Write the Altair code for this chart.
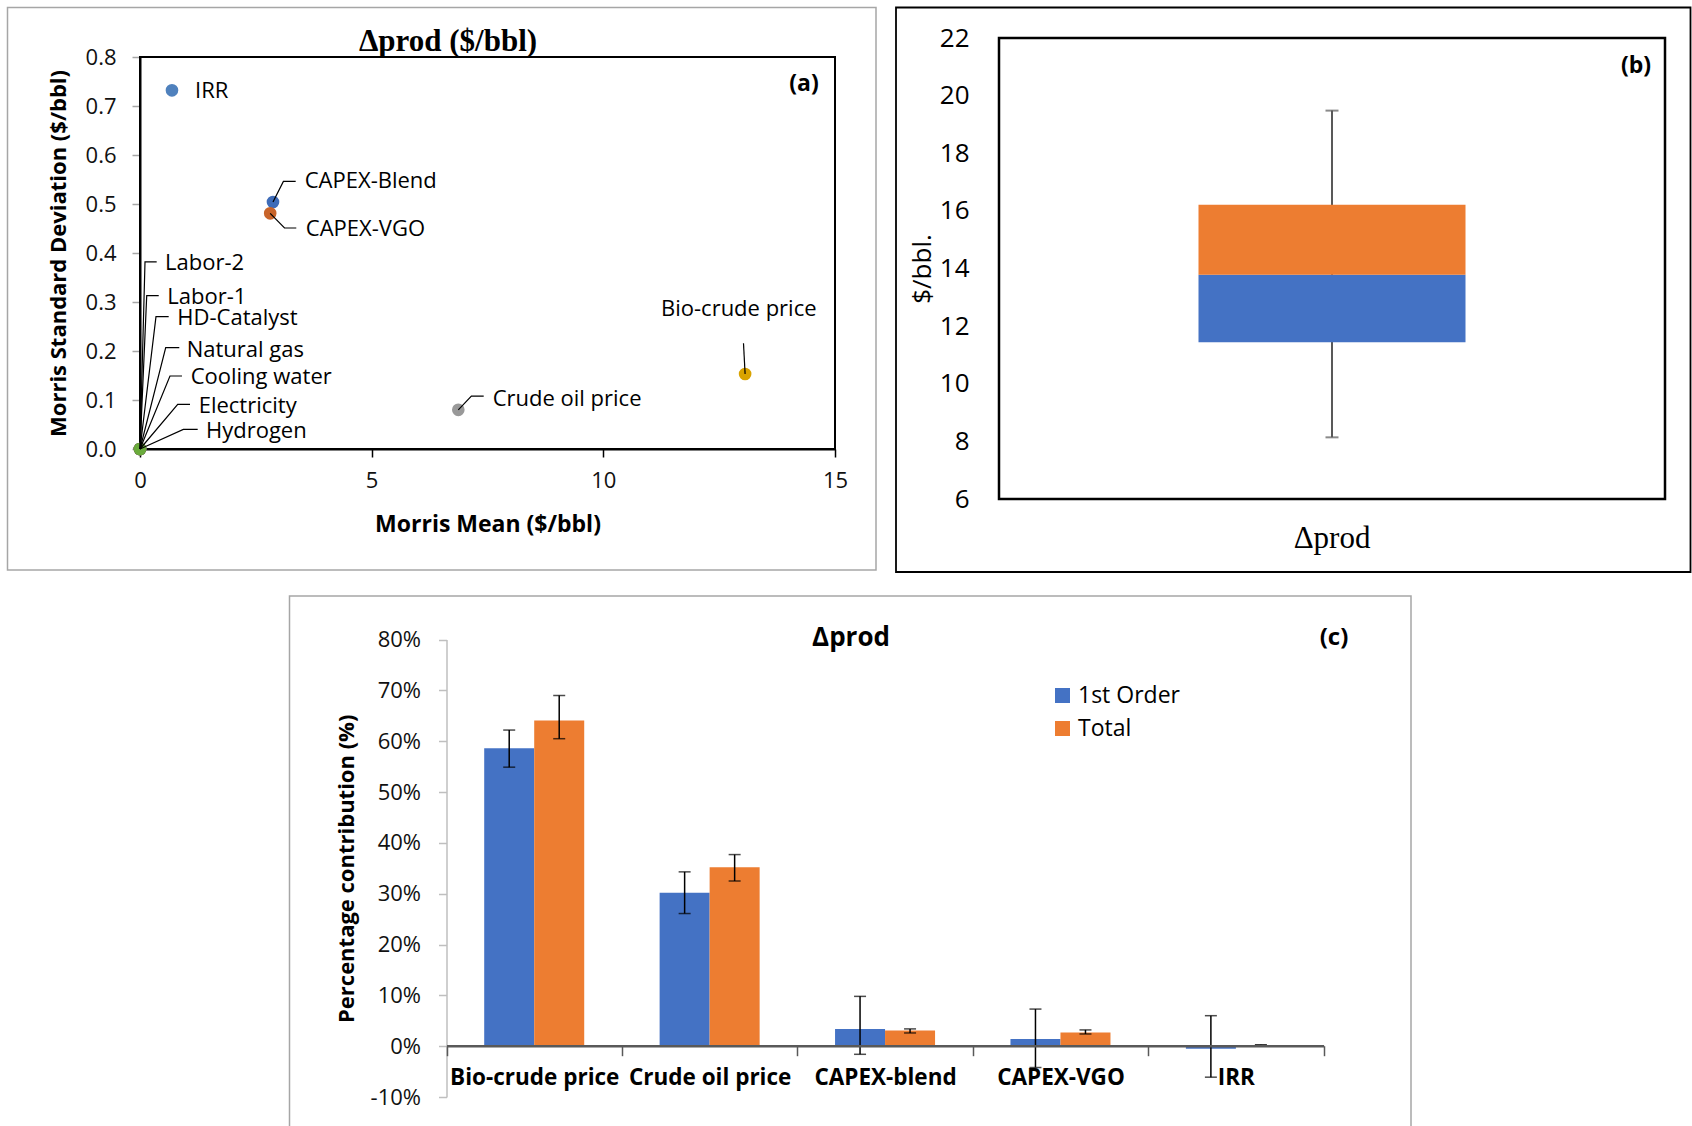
import altair as alt
import pandas as pd

FONT = "Open Sans"
SERIF = "Liberation Serif"
BLUE, ORANGE = "#4472c4", "#ed7d31"
W, H = 1692, 1126

# ---------------- (a) Morris screening of Δprod ----------------
morris_params = ["Labor-2", "Labor-1", "HD-Catalyst", "Natural gas", "Cooling water",
                 "Electricity", "IRR", "CAPEX-Blend", "CAPEX-VGO", "Crude oil price",
                 "Bio-crude price", "Hydrogen"]
morris_mean = [0.0, 0.0, 0.0, 0.0, 0.0, 0.0, 0.69, 2.87, 2.81, 6.87, 13.06, 0.0]
morris_std = [0.0, 0.0, 0.0, 0.0, 0.0, 0.0, 0.732, 0.504, 0.481, 0.080, 0.153, 0.0]
point_colors = ["#a5a5a5", "#ffc000", "#5b9bd5", "#264478", "#9e480e", "#636363",
                "#4f81bd", "#3f6cb8", "#c8642a", "#999999", "#d9a300", "#6aab3c"]

# label anchor (left edge, middle) for each parameter, in data units
label_x = {"IRR": 1.187, "CAPEX-Blend": 3.555, "CAPEX-VGO": 3.578, "Labor-2": 0.540,
           "Labor-1": 0.589, "HD-Catalyst": 0.805, "Natural gas": 1.008,
           "Cooling water": 1.094, "Electricity": 1.267, "Hydrogen": 1.424,
           "Crude oil price": 7.612, "Bio-crude price": 11.245}
label_y = {"IRR": 0.731, "CAPEX-Blend": 0.546, "CAPEX-VGO": 0.450, "Labor-2": 0.380,
           "Labor-1": 0.311, "HD-Catalyst": 0.267, "Natural gas": 0.202,
           "Cooling water": 0.146, "Electricity": 0.088, "Hydrogen": 0.037,
           "Crude oil price": 0.103, "Bio-crude price": 0.286}
# leader lines: elbow (x, y) then horizontal run to x_end
leader_elbow = {"CAPEX-Blend": (3.095, 0.546, 3.360), "CAPEX-VGO": (3.119, 0.451, 3.373),
                "Labor-2": (0.108, 0.382, 0.360), "Labor-1": (0.145, 0.313, 0.404),
                "HD-Catalyst": (0.345, 0.270, 0.619), "Natural gas": (0.555, 0.207, 0.848),
                "Cooling water": (0.647, 0.149, 0.906), "Electricity": (0.814, 0.091, 1.079),
                "Hydrogen": (0.935, 0.040, 1.245), "Crude oil price": (7.152, 0.108, 7.418),
                "Bio-crude price": (13.025, 0.216, 13.025)}

# ---------------- (b) Δprod distribution ----------------
box_cat = ["Δprod"]
box_whisker_lo = [8.14]
box_q1 = [11.44]
box_median = [13.78]
box_q3 = [16.21]
box_whisker_hi = [19.48]

# ---------------- (c) Sobol indices ----------------
sobol_params = ["Bio-crude price", "Crude oil price", "CAPEX-blend", "CAPEX-VGO", "IRR"]
sobol_series = ["1st Order", "Total"]
first_order = [0.586, 0.302, 0.034, 0.014, -0.005]
first_lo = [0.549, 0.261, -0.016, -0.042, -0.061]
first_hi = [0.622, 0.343, 0.098, 0.073, 0.060]
total_order = [0.641, 0.352, 0.031, 0.027, 0.002]
total_lo = [0.605, 0.325, 0.026, 0.024, 0.0015]
total_hi = [0.690, 0.377, 0.034, 0.032, 0.0028]


def blank():
    return alt.Chart(pd.DataFrame({"k": [0]}))


def frame(x0, y0, x1, y1, color, width):
    return blank().mark_rect(fillOpacity=0, stroke=color, strokeWidth=width).encode(
        x=alt.value(x0), x2=alt.value(x1), y=alt.value(y0), y2=alt.value(y1))


def note(text, x, y, size, weight="normal", font=FONT):
    return blank().mark_text(text=text, font=font, fontSize=size, fontWeight=weight,
                             align="center", baseline="middle", color="black").encode(
        x=alt.value(x), y=alt.value(y))


layers = []

# ===== panel (a) =====
xa = alt.Scale(domain=[0, 15], range=[140, 835], nice=False, zero=False)
ya = alt.Scale(domain=[0, 0.8], range=[449, 57], nice=False, zero=False)

axis_xa = alt.Axis(orient="bottom", offset=-677, values=[0, 5, 10, 15], grid=False,
                   tickSize=8, tickColor="#000", tickWidth=1.5, domainColor="#000", domainWidth=2,
                   labelFont=FONT, labelFontSize=22, labelColor="#111", labelPadding=13,
                   labelFlush=False, labelOverlap=False,
                   title="Morris Mean ($/bbl)", titleFont=FONT, titleFontSize=23,
                   titleFontWeight="bold", titleColor="#000", titlePadding=22)
axis_ya = alt.Axis(orient="left", offset=-140, values=[i / 10 for i in range(9)], format=".1f",
                   grid=False, tickSize=8, tickColor="#a6a6a6", tickWidth=1.5,
                   domainColor="#000", domainWidth=2,
                   labelFont=FONT, labelFontSize=22, labelColor="#111", labelPadding=16,
                   labelFlush=False, labelOverlap=False,
                   title="Morris Standard Deviation ($/bbl)", titleFont=FONT, titleFontSize=22,
                   titleFontWeight="bold", titleColor="#000", titlePadding=15)

layers.append(frame(7.5, 7.5, 876, 570, "#a6a6a6", 1.5))

plot_box_a = pd.DataFrame({"x0": [0], "x1": [15], "y0": [0], "y1": [0.8]})
layers.append(alt.Chart(plot_box_a).mark_rect(fillOpacity=0, stroke="black", strokeWidth=2).encode(
    x=alt.X("x0:Q", scale=xa, axis=None), x2="x1:Q",
    y=alt.Y("y0:Q", scale=ya, axis=None), y2="y1:Q"))

morris_df = pd.DataFrame({"param": morris_params, "mean": morris_mean, "std": morris_std,
                          "rank": list(range(len(morris_params)))})
layers.append(alt.Chart(morris_df).mark_circle(size=160, opacity=1).encode(
    x=alt.X("mean:Q", scale=xa, axis=axis_xa),
    y=alt.Y("std:Q", scale=ya, axis=axis_ya),
    color=alt.Color("param:N", scale=alt.Scale(domain=morris_params, range=point_colors),
                    legend=None),
    order="rank:Q"))

leader_rows = []
for name, (ex, ey, tx) in leader_elbow.items():
    i = morris_params.index(name)
    leader_rows += [{"param": name, "k": 0, "x": morris_mean[i], "y": morris_std[i]},
                    {"param": name, "k": 1, "x": ex, "y": ey},
                    {"param": name, "k": 2, "x": tx, "y": ey}]
layers.append(alt.Chart(pd.DataFrame(leader_rows)).mark_line(color="black", strokeWidth=1.2).encode(
    x=alt.X("x:Q", scale=xa, axis=None), y=alt.Y("y:Q", scale=ya, axis=None),
    detail="param:N", order="k:Q"))

label_df = pd.DataFrame({"param": list(label_x), "lx": list(label_x.values()),
                         "ly": [label_y[p] for p in label_x]})
layers.append(alt.Chart(label_df).mark_text(align="left", baseline="middle", font=FONT,
                                            fontSize=22, color="black").encode(
    x=alt.X("lx:Q", scale=xa, axis=None), y=alt.Y("ly:Q", scale=ya, axis=None), text="param:N"))

layers.append(note("Δprod ($/bbl)", 448, 42, 31, "bold", SERIF))
layers.append(note("(a)", 804, 84, 23, "bold"))

# ===== panel (b) =====
xb = alt.Scale(domain=box_cat, range=[999, 1665], paddingInner=0, paddingOuter=0)
yb = alt.Scale(domain=[6, 22], range=[499, 38], nice=False, zero=False)
axis_xb = alt.Axis(orient="bottom", offset=-627, ticks=False, tickSize=0, domain=False, grid=False,
                   labelFont=SERIF, labelFontSize=31, labelColor="#000", labelPadding=24,
                   labelAngle=0, title=None)
axis_yb = alt.Axis(orient="left", offset=-999, values=list(range(6, 23, 2)), ticks=False,
                   tickSize=0, domain=False, grid=False, labelFont=FONT, labelFontSize=26,
                   labelColor="#000", labelPadding=30, labelFlush=False, labelOverlap=False,
                   title="$/bbl.", titleFont=FONT, titleFontSize=26, titleFontWeight="normal",
                   titleColor="#000", titlePadding=4)

layers.append(frame(896, 7.5, 1690.5, 572, "#000", 1.8))

box_df = pd.DataFrame({"cat": box_cat, "lo": box_whisker_lo, "q1": box_q1, "med": box_median,
                       "q3": box_q3, "hi": box_whisker_hi})
bx = alt.X("cat:N", scale=xb, axis=None)
layers.append(alt.Chart(box_df).mark_rule(color="#595959", strokeWidth=2).encode(
    x=bx, y=alt.Y("lo:Q", scale=yb, axis=None), y2="hi:Q"))
for col in ["lo", "hi"]:
    layers.append(alt.Chart(box_df).mark_tick(size=13, thickness=2, color="#595959").encode(
        x=bx, y=alt.Y(f"{col}:Q", scale=yb, axis=None)))
layers.append(alt.Chart(box_df).mark_bar(size=267, color=BLUE).encode(
    x=alt.X("cat:N", scale=xb, axis=axis_xb), y=alt.Y("q1:Q", scale=yb, axis=axis_yb), y2="med:Q"))
layers.append(alt.Chart(box_df).mark_bar(size=267, color=ORANGE).encode(
    x=bx, y=alt.Y("med:Q", scale=yb, axis=None), y2="q3:Q"))

plot_box_b = pd.DataFrame({"y0": [6], "y1": [22]})
layers.append(alt.Chart(plot_box_b).mark_rect(fillOpacity=0, stroke="black", strokeWidth=2.5).encode(
    x=alt.value(999), x2=alt.value(1665),
    y=alt.Y("y0:Q", scale=yb, axis=None), y2="y1:Q"))
layers.append(note("(b)", 1636, 66, 23, "bold"))

# ===== panel (c) =====
xc = alt.Scale(domain=sobol_params, range=[446.5, 1323.6], paddingInner=0, paddingOuter=0)
xo = alt.Scale(domain=sobol_series, paddingInner=0, paddingOuter=0.754)
yc = alt.Scale(domain=[-0.1, 0.8], range=[1097, 639.6], nice=False, zero=False)
axis_xc = alt.Axis(orient="bottom", offset=-80.3, tickBand="extent", tickSize=10,
                   tickColor="#595959", tickWidth=1.5, domainColor="#595959", domainWidth=2.5,
                   grid=False, labelFont=FONT, labelFontSize=22.5, labelFontWeight="bold",
                   labelColor="#000", labelPadding=11, labelAngle=0, labelOverlap=False,
                   title=None, zindex=1)
axis_yc = alt.Axis(orient="left", offset=-446.5, values=[i / 10 for i in range(-1, 9)],
                   labelExpr="(datum.value < 0 ? '-' : '') + format(abs(datum.value), '.0%')",
                   grid=False, tickSize=8, tickColor="#bfbfbf", tickWidth=1.5,
                   domainColor="#bfbfbf", domainWidth=1.5,
                   labelFont=FONT, labelFontSize=22, labelColor="#111", labelPadding=18,
                   labelFlush=False, labelOverlap=False,
                   title="Percentage contribution (%)", titleFont=FONT, titleFontSize=22,
                   titleFontWeight="bold", titleColor="#000", titlePadding=12)

layers.append(frame(289.5, 596, 1411, 1140, "#a6a6a6", 1.5))

sobol_df = pd.DataFrame({
    "param": sobol_params * 2,
    "series": [sobol_series[0]] * 5 + [sobol_series[1]] * 5,
    "value": first_order + total_order,
    "lo": first_lo + total_lo,
    "hi": first_hi + total_hi,
})
cx = alt.X("param:N", scale=xc, axis=None)
cxo = alt.XOffset("series:N", scale=xo)
layers.append(alt.Chart(sobol_df).mark_bar().encode(
    x=alt.X("param:N", scale=xc, axis=axis_xc), xOffset=cxo,
    y=alt.Y("value:Q", scale=yc, axis=axis_yc),
    color=alt.Color("series:N", scale=alt.Scale(domain=sobol_series, range=[BLUE, ORANGE]),
                    legend=alt.Legend(orient="none", legendX=1051, legendY=684, title=None,
                                      symbolType="square", symbolSize=225, symbolStrokeWidth=0,
                                      labelFont=FONT, labelFontSize=23, labelColor="#000",
                                      labelOffset=4, rowPadding=9, padding=0))))
layers.append(alt.Chart(sobol_df).mark_rule(color="black", strokeWidth=1.5).encode(
    x=cx, xOffset=cxo, y=alt.Y("lo:Q", scale=yc, axis=None), y2="hi:Q"))
for col in ["lo", "hi"]:
    layers.append(alt.Chart(sobol_df).mark_tick(size=12, thickness=1.5, color="black").encode(
        x=cx, xOffset=cxo, y=alt.Y(f"{col}:Q", scale=yc, axis=None)))

layers.append(note("Δprod", 851, 638, 26, "bold"))
layers.append(note("(c)", 1334, 638, 24, "bold"))

chart = alt.layer(*layers).resolve_scale(
    x="independent", y="independent", color="independent", xOffset="independent"
).properties(
    width=W, height=H, padding=0, background="white",
    autosize=alt.AutoSizeParams(type="none"),
).configure_view(stroke=None)

chart.save("out.html", embed_options={"renderer": "svg", "actions": False})
